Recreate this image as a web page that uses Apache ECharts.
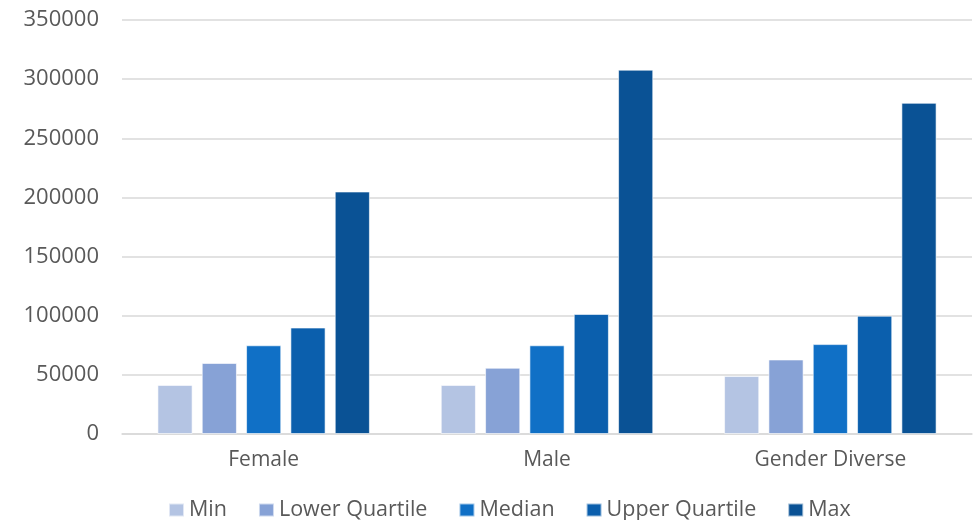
<!DOCTYPE html>
<html><head><meta charset="utf-8">
<script src="https://cdn.jsdelivr.net/npm/echarts@6/dist/echarts.min.js"></script>
<style>html,body{margin:0;padding:0;background:#fff}#c{width:973px;height:520px}</style>
</head><body><div id="c"></div>
<script>
const categories = ['Female', 'Male', 'Gender Diverse'];
const seriesNames = ['Min', 'Lower Quartile', 'Median', 'Upper Quartile', 'Max'];
const minVals = [41500, 41500, 49000];
const lowerQuartileVals = [60000, 56000, 63000];
const medianVals = [75000, 75000, 76000];
const upperQuartileVals = [90000, 101500, 100000];
const maxVals = [205000, 308000, 280000];
const yTicks = [0, 50000, 100000, 150000, 200000, 250000, 300000, 350000];
const colors = ['#B4C4E3', '#87A2D6', '#1070C6', '#0B5FAD', '#0A5295'];

const allVals = [minVals, lowerQuartileVals, medianVals, upperQuartileVals, maxVals];
const chart = echarts.init(document.getElementById('c'));
chart.setOption({
  animation: false,
  color: colors,
  grid: { left: 122, right: 1, top: 20, bottom: 86, containLabel: false },
  legend: {
    top: 499, left: 168, padding: 0,
    itemWidth: 15, itemHeight: 13, itemGap: 31,
    icon: 'rect',
    textStyle: { fontFamily: 'Open Sans', fontSize: 21.5, lineHeight: 22, color: '#595959' },
    data: seriesNames
  },
  xAxis: {
    type: 'category', data: categories,
    axisLine: { lineStyle: { color: '#d9d9d9', width: 1.5 } },
    axisTick: { show: false },
    axisLabel: { fontFamily: 'Open Sans', fontSize: 21, color: '#595959', margin: 16 }
  },
  yAxis: {
    type: 'value', min: yTicks[0], max: yTicks[yTicks.length - 1], interval: 50000,
    axisLine: { show: false }, axisTick: { show: false },
    splitLine: { lineStyle: { color: '#d9d9d9', width: 1.5 } },
    axisLabel: { fontFamily: 'Open Sans', fontSize: 22, color: '#595959', margin: 23,
      formatter: v => String(v) }
  },
  series: seriesNames.map((n, i) => ({
    name: n, type: 'bar', data: allVals[i],
    barGap: '26%', barCategoryGap: '25%',
    itemStyle: { borderColor: 'rgba(255,255,255,0.6)', borderWidth: 1 }
  }))
});
</script></body></html>
